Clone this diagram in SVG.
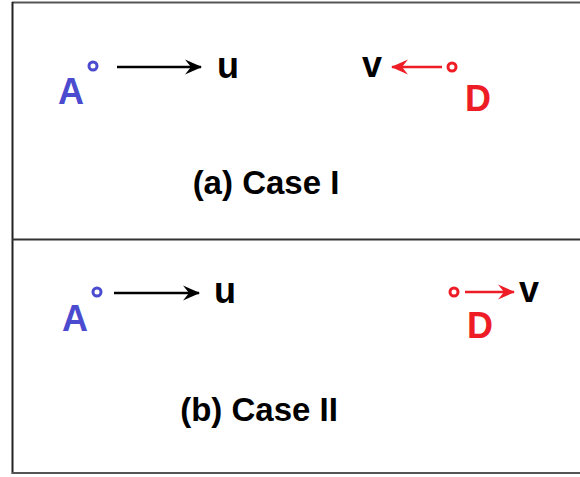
<svg xmlns="http://www.w3.org/2000/svg" width="580" height="477" viewBox="0 0 580 477">
<style>
text{font-family:"Liberation Sans",Arial,sans-serif;font-weight:bold}
.pt{font-size:36px}
.cap{font-size:33px;fill:#000}
.blue{fill:#4b4bd0}
.red{fill:#ee1c25}
.dot{fill:none;stroke-width:3}
</style>
<defs>
<marker id="hb" viewBox="0 0 18 16" refX="17" refY="8" markerWidth="18" markerHeight="16" markerUnits="userSpaceOnUse" orient="auto">
<path d="M1,0.5 L18,8 L1,15.5 L7,8 Z" fill="#000"/>
</marker>
<marker id="hr" viewBox="0 0 18 16" refX="17" refY="8" markerWidth="18" markerHeight="16" markerUnits="userSpaceOnUse" orient="auto">
<path d="M1,0.5 L18,8 L1,15.5 L7,8 Z" fill="#ee1c25"/>
</marker>
</defs>
<rect x="0" y="0" width="580" height="477" fill="#fff"/>
<g id="frame" fill="none">
<line x1="12" y1="2.5" x2="580" y2="2.5" stroke="#555" stroke-width="2"/>
<line x1="12.5" y1="2" x2="12.5" y2="474" stroke="#222" stroke-width="2"/>
<line x1="12" y1="239.5" x2="580" y2="239.5" stroke="#333" stroke-width="2"/>
<line x1="12" y1="473" x2="580" y2="473" stroke="#555" stroke-width="2"/>
</g>
<g id="connectors" stroke-width="2.5">
<line x1="117" y1="67" x2="201" y2="67" stroke="#000" marker-end="url(#hb)"/>
<line x1="442" y1="67" x2="392" y2="67" stroke="#ee1c25" marker-end="url(#hr)"/>
<line x1="114" y1="293" x2="199" y2="293" stroke="#000" marker-end="url(#hb)"/>
<line x1="465" y1="292" x2="514" y2="292" stroke="#ee1c25" marker-end="url(#hr)"/>
</g>
<g id="caseI-A"><circle class="dot" cx="93" cy="66" r="4" stroke="#4b4bd0"/><text class="pt blue" x="58" y="104">A</text></g>
<g id="caseI-u"><text class="pt" x="217" y="78">u</text></g>
<g id="caseI-v"><text class="pt" x="362" y="77">v</text></g>
<g id="caseI-D"><circle class="dot" cx="452" cy="67" r="4" stroke="#ee1c25"/><text class="pt red" x="465" y="111">D</text></g>
<g id="caseI-label"><text class="cap" x="266" y="194" text-anchor="middle">(a) Case I</text></g>
<g id="caseII-A"><circle class="dot" cx="97" cy="292" r="4" stroke="#4b4bd0"/><text class="pt blue" x="62" y="331">A</text></g>
<g id="caseII-u"><text class="pt" x="214" y="303">u</text></g>
<g id="caseII-D"><circle class="dot" cx="454" cy="292" r="4" stroke="#ee1c25"/><text class="pt red" x="467" y="338">D</text></g>
<g id="caseII-v"><text class="pt" x="519" y="302">v</text></g>
<g id="caseII-label"><text class="cap" x="259" y="421" text-anchor="middle">(b) Case II</text></g>
</svg>
